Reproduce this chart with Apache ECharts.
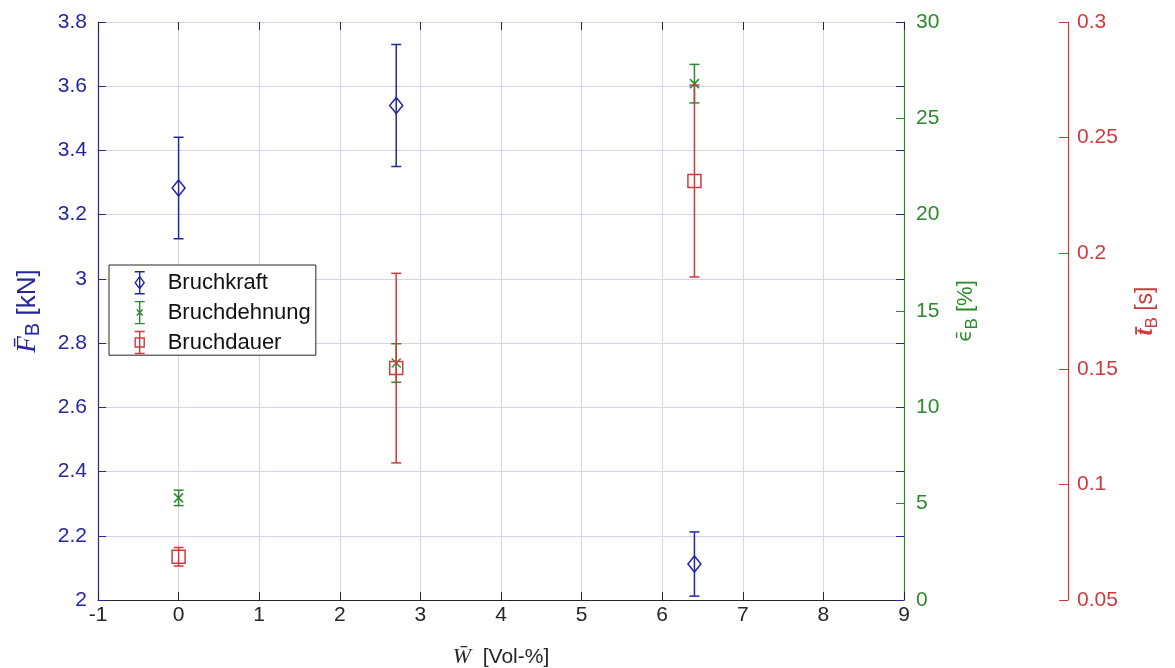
<!DOCTYPE html>
<html>
<head>
<meta charset="utf-8">
<script src="https://cdn.jsdelivr.net/npm/echarts@6/dist/echarts.min.js"></script>
<style>
  html, body { margin: 0; padding: 0; background: #ffffff; }
  #chart { width: 1175px; height: 668px; }
</style>
</head>
<body>
<div id="chart"></div>
<script>
// Fibre content (x) and mean break values with their standard deviation
const wVol = [0, 2.7, 6.4];
const forceMean = [3.283, 3.54, 2.112];      // kN
const forceErr = [0.158, 0.19, 0.1];
const strainMean = [5.3, 12.3, 26.8];        // %
const strainErr = [0.4, 1.0, 1.0];
const durationMean = [0.0687, 0.1503, 0.2312]; // s
const durationErr = [0.004, 0.041, 0.0415];

const seriesNames = ['Bruchkraft', 'Bruchdehnung', 'Bruchdauer'];

const BLUE = '#2525a4';
const GREEN = '#2c8a2c';
const RED = '#d03a3a';
const DARK = '#262626';
const TICK_FONT = 21;

// marker outline drawn at the mean point
function markerShape(kind, cx, cy, color) {
  const style = { stroke: color, fill: null, lineWidth: 1.5 };
  if (kind === 'diamond') {
    return { type: 'polygon', shape: { points: [[cx, cy - 8], [cx + 6.5, cy], [cx, cy + 8], [cx - 6.5, cy]] }, style };
  }
  if (kind === 'square') {
    return { type: 'rect', shape: { x: cx - 6.5, y: cy - 6.5, width: 13, height: 13 }, style };
  }
  return {
    type: 'group', children: [
      { type: 'line', shape: { x1: cx - 4.5, y1: cy - 4.5, x2: cx + 4.5, y2: cy + 4.5 }, style },
      { type: 'line', shape: { x1: cx + 4.5, y1: cy - 4.5, x2: cx - 4.5, y2: cy + 4.5 }, style }
    ]
  };
}

function errorBarSeries(name, yAxisIndex, means, errs, color, kind) {
  return {
    type: 'custom',
    name: name,
    xAxisIndex: 0,
    yAxisIndex: yAxisIndex,
    data: wVol.map((w, i) => [w, means[i], means[i] - errs[i], means[i] + errs[i]]),
    encode: { x: 0, y: [1, 2, 3] },
    clip: false,
    renderItem: function (params, api) {
      const x = api.value(0);
      const c = api.coord([x, api.value(1)]);
      const lo = api.coord([x, api.value(2)]);
      const hi = api.coord([x, api.value(3)]);
      const cap = 5;
      const st = { stroke: color, lineWidth: 1.5 };
      return {
        type: 'group',
        children: [
          { type: 'line', shape: { x1: c[0], y1: hi[1], x2: c[0], y2: lo[1] }, style: st },
          { type: 'line', shape: { x1: c[0] - cap, y1: hi[1], x2: c[0] + cap, y2: hi[1] }, style: st },
          { type: 'line', shape: { x1: c[0] - cap, y1: lo[1], x2: c[0] + cap, y2: lo[1] }, style: st },
          markerShape(kind, c[0], c[1], color)
        ]
      };
    }
  };
}

const legendIcons = [
  'path://M0,0H10M5,0V22M0,22H10M5,5L9.5,11L5,17L0.5,11Z',
  'path://M0,0H10M5,0V22M0,22H10M2,8L8,14M8,8L2,14',
  'path://M0,0H10M5,0V22M0,22H10M0.5,6.5H9.5V15.5H0.5Z'
];
const legendColors = [BLUE, GREEN, RED];

function axisTitleRich(color, mainFont, mainSize, mainStyle, mainWeight, unitSize) {
  return {
    v: { fontFamily: mainFont, fontStyle: mainStyle, fontWeight: mainWeight, fontSize: mainSize, lineHeight: 30, color: color },
    s: { fontFamily: 'Liberation Sans', fontSize: Math.round(unitSize * 0.75), lineHeight: 14, verticalAlign: 'bottom', color: color },
    u: { fontFamily: 'Liberation Sans', fontSize: unitSize, lineHeight: 30, color: color }
  };
}

const chart = echarts.init(document.getElementById('chart'), null, { renderer: 'canvas' });

const option = {
  backgroundColor: '#ffffff',
  animation: false,
  textStyle: { fontFamily: 'Liberation Sans, Arial, sans-serif' },
  grid: { left: 98, right: 271, top: 22, bottom: 68, outerBoundsMode: 'none' },
  legend: {
    orient: 'vertical',
    left: 109,
    top: 265,
    selectedMode: false,
    backgroundColor: '#ffffff',
    borderColor: '#262626',
    borderWidth: 1,
    borderRadius: 0,
    padding: [6, 5, 1, 25],
    itemWidth: 10,
    itemHeight: 22,
    itemGap: 6.5,
    textStyle: { fontSize: 22, color: '#111111', padding: [0, 0, 0, 18] },
    data: seriesNames.map((n, i) => ({
      name: n,
      icon: legendIcons[i],
      itemStyle: { color: 'rgba(0,0,0,0)', borderColor: legendColors[i], borderWidth: 1.4 }
    }))
  },
  xAxis: [
    {
      type: 'value', min: -1, max: 9, interval: 1,
      position: 'bottom',
      name: '{v|W\u0304}{u|  [Vol-%]}',
      nameLocation: 'middle',
      nameGap: 44,
      nameTextStyle: {
        color: DARK,
        rich: {
          v: { fontFamily: 'Liberation Serif', fontStyle: 'italic', fontSize: 22, lineHeight: 26, color: DARK },
          u: { fontFamily: 'Liberation Sans', fontSize: 21, lineHeight: 26, color: DARK }
        }
      },
      axisLine: { show: true, onZero: false, lineStyle: { color: DARK, width: 1.2 } },
      axisTick: { show: true, inside: true, length: 8, lineStyle: { color: DARK } },
      axisLabel: { color: DARK, fontSize: TICK_FONT, margin: 5 },
      splitLine: { show: true, lineStyle: { color: '#d6d6e4', width: 1 } }
    },
    {
      type: 'value', min: -1, max: 9, interval: 1,
      position: 'top',
      axisLine: { show: false, onZero: false },
      axisTick: { show: true, inside: true, length: 8, lineStyle: { color: DARK } },
      axisLabel: { show: false },
      splitLine: { show: false }
    }
  ],
  yAxis: [
    {
      type: 'value', min: 2, max: 3.8, interval: 0.2,
      position: 'left',
      name: '{v|F\u0304}{s|B}{u| [kN]}',
      nameLocation: 'middle',
      nameGap: 55,
      nameTextStyle: { color: BLUE, rich: axisTitleRich(BLUE, 'Liberation Serif', 27, 'italic', 'normal', 26) },
      axisLine: { show: true, onZero: false, lineStyle: { color: BLUE, width: 1.2 } },
      axisTick: { show: true, inside: true, length: 8, lineStyle: { color: BLUE } },
      axisLabel: { color: BLUE, fontSize: TICK_FONT, margin: 11, formatter: v => String(+v.toFixed(1)) },
      splitLine: { show: true, lineStyle: { color: '#d2d2ef', width: 1 } }
    },
    {
      type: 'value', min: 0, max: 30, interval: 5,
      position: 'right',
      offset: 0,
      name: '{v|\u03F5\u0304}{s|B}{u| [%]}',
      nameLocation: 'middle',
      nameGap: 47,
      nameTextStyle: { color: GREEN, rich: axisTitleRich(GREEN, 'DejaVu Sans', 20, 'normal', 'normal', 22) },
      axisLine: { show: true, onZero: false, lineStyle: { color: GREEN, width: 1.2 } },
      axisTick: { show: true, inside: true, length: 8, lineStyle: { color: GREEN } },
      axisLabel: { color: GREEN, fontSize: TICK_FONT, margin: 12 },
      splitLine: { show: false }
    },
    {
      type: 'value', min: 0.05, max: 0.3, interval: 0.05,
      position: 'right',
      offset: 164,
      name: '{v|t\u0304}{s|B}{u| [s]}',
      nameLocation: 'middle',
      nameGap: 63,
      nameTextStyle: { color: RED, rich: axisTitleRich(RED, 'Liberation Serif', 25, 'italic', 'bold', 23) },
      axisLine: { show: true, onZero: false, lineStyle: { color: RED, width: 1.2 } },
      axisTick: { show: true, inside: true, length: 9, lineStyle: { color: RED } },
      axisLabel: { color: RED, fontSize: TICK_FONT, margin: 9, formatter: v => String(+v.toFixed(2)) },
      splitLine: { show: false }
    },
    {
      // mirrored force ticks along the right edge of the plot
      type: 'value', min: 2, max: 3.8, interval: 0.2,
      position: 'right',
      offset: 0,
      axisLine: { show: false, onZero: false },
      axisTick: { show: true, inside: true, length: 8, lineStyle: { color: BLUE } },
      axisLabel: { show: false },
      splitLine: { show: false }
    }
  ],
  series: [
    errorBarSeries(seriesNames[0], 0, forceMean, forceErr, BLUE, 'diamond'),
    errorBarSeries(seriesNames[1], 1, strainMean, strainErr, GREEN, 'cross'),
    errorBarSeries(seriesNames[2], 2, durationMean, durationErr, RED, 'square')
  ]
};

chart.setOption(option);
</script>
</body>
</html>
